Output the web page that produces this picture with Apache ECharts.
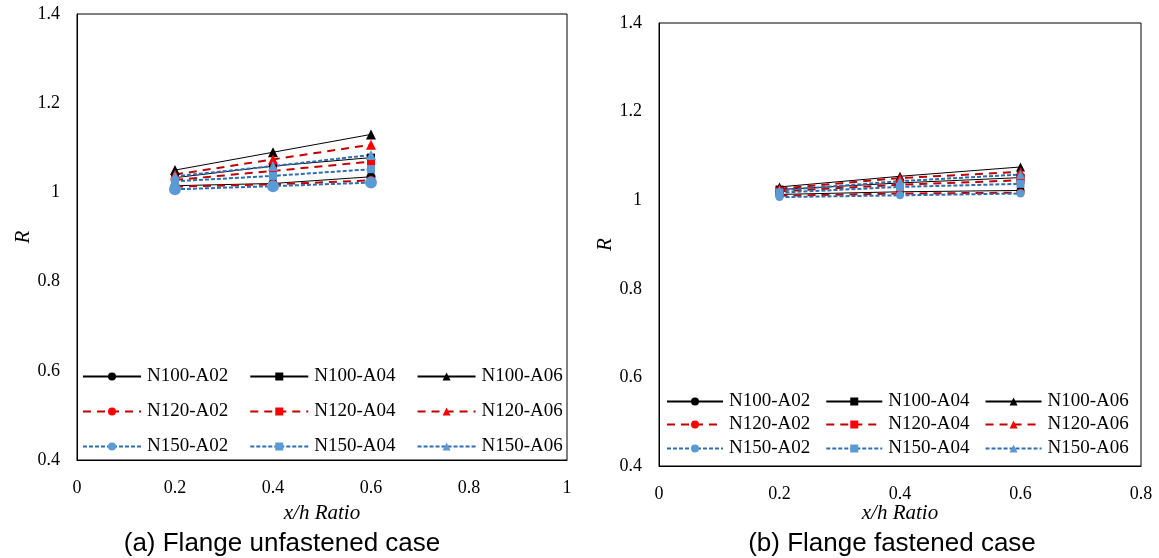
<!DOCTYPE html>
<html>
<head>
<meta charset="utf-8">
<script src="https://cdn.jsdelivr.net/npm/echarts@6/dist/echarts.min.js"></script>
<style>
  html, body { margin: 0; padding: 0; background: #fff; }
  #main { width: 1159px; height: 558px; }
</style>
</head>
<body>
<div id="main"></div>
<script>
// x/h ratio
var xVals = [0.2, 0.4, 0.6];
var groups = ['N100', 'N120', 'N150'];
var angles = ['A02', 'A04', 'A06'];

// (a) flange unfastened
var aN100A02 = [1.015, 1.020, 1.035];
var aN100A04 = [1.033, 1.059, 1.078];
var aN100A06 = [1.050, 1.090, 1.130];
var aN120A02 = [1.013, 1.018, 1.027];
var aN120A04 = [1.028, 1.048, 1.069];
var aN120A06 = [1.040, 1.074, 1.107];
var aN150A02 = [1.007, 1.014, 1.022];
var aN150A04 = [1.025, 1.037, 1.052];
var aN150A06 = [1.036, 1.059, 1.084];

// (b) flange fastened
var bN100A02 = [1.013, 1.019, 1.022];
var bN100A04 = [1.024, 1.039, 1.051];
var bN100A06 = [1.030, 1.054, 1.075];
var bN120A02 = [1.010, 1.015, 1.017];
var bN120A04 = [1.020, 1.035, 1.045];
var bN120A06 = [1.026, 1.050, 1.064];
var bN150A02 = [1.007, 1.011, 1.015];
var bN150A04 = [1.017, 1.030, 1.037];
var bN150A06 = [1.022, 1.043, 1.058];

var yTicks = [0.4, 0.6, 0.8, 1, 1.2, 1.4];

var dataA = {
  N100: [aN100A02, aN100A04, aN100A06],
  N120: [aN120A02, aN120A04, aN120A06],
  N150: [aN150A02, aN150A04, aN150A06]
};
var dataB = {
  N100: [bN100A02, bN100A04, bN100A06],
  N120: [bN120A02, bN120A04, bN120A06],
  N150: [bN150A02, bN150A04, bN150A06]
};

var serif = 'Liberation Serif';
var lineCol = { N100: '#000000', N120: '#C00000', N150: '#2E6DB0' };
var markCol = { N100: '#000000', N120: '#FF0000', N150: '#5B9BD5' };
var lineType = { N100: 'solid', N120: [8, 6], N150: [4, 2] };
var lineW = { N100: 1, N120: 2, N150: 2 };
var symbols = ['circle', 'rect', 'triangle'];

function makeSeries(data, idx, big) {
  var out = [];
  groups.forEach(function (g) {
    angles.forEach(function (a, k) {
      var size = k === 0 ? (g === 'N150' && big ? 12 : 9) : (k === 1 ? 8 : 10);
      if (!big) size = k === 0 ? 8 : (k === 1 ? 8 : 9);
      out.push({
        name: g + '-' + a,
        type: 'line',
        xAxisIndex: idx,
        yAxisIndex: idx,
        data: xVals.map(function (x, i) { return [x, data[g][k][i]]; }),
        symbol: symbols[k],
        symbolSize: size,
        lineStyle: { color: lineCol[g], width: lineW[g], type: lineType[g] },
        itemStyle: { color: markCol[g], borderWidth: 0 },
        emphasis: { disabled: true },
        animation: false
      });
    });
  });
  return out;
}

function rowLegend(row, left, top, w, gap) {
  return {
    data: angles.map(function (a) { return groups[row] + '-' + a; }),
    left: left, top: top, padding: 0,
    itemWidth: w, itemHeight: 10, itemGap: gap,
    textStyle: { fontFamily: serif, fontSize: 19, color: '#000', padding: [0, 0, 0, 1] },
    selectedMode: false
  };
}

var axisText = { fontFamily: serif, fontSize: 18, color: '#000' };
var nameText = { fontFamily: serif, fontSize: 21, fontStyle: 'italic', color: '#000' };

function xAxis(idx, max, gap) {
  return {
    type: 'value', gridIndex: idx, min: 0, max: max, interval: 0.2,
    axisLine: { show: true, lineStyle: { color: '#000' } },
    axisTick: { show: false }, splitLine: { show: false },
    axisLabel: Object.assign({ margin: 19 }, axisText),
    name: 'x/h Ratio', nameLocation: 'middle', nameGap: gap, nameTextStyle: nameText,
    nameMoveOverlap: false
  };
}
function yAxis(idx, gap) {
  return {
    type: 'value', gridIndex: idx, min: yTicks[0], max: yTicks[yTicks.length - 1], interval: 0.2,
    axisLine: { show: true, lineStyle: { color: '#000' } },
    axisTick: { show: false }, splitLine: { show: false },
    axisLabel: Object.assign({ margin: 17 }, axisText),
    name: 'R', nameLocation: 'middle', nameGap: gap, nameRotate: 90, nameTextStyle: nameText
  };
}

var chart = echarts.init(document.getElementById('main'));
var option = {
  backgroundColor: '#fff',
  animation: false,
  grid: [
    { left: 77, top: 14, width: 490, height: 446, show: true, borderColor: '#000', borderWidth: 1 },
    { left: 659, top: 23, width: 482, height: 443, show: true, borderColor: '#000', borderWidth: 1 }
  ],
  xAxis: [xAxis(0, 1, 43), xAxis(1, 0.8, 37)],
  yAxis: [yAxis(0, 36), yAxis(1, 39)],
  legend: [
    rowLegend(0, 82, 367, 58, 21), rowLegend(1, 82, 402, 58, 21), rowLegend(2, 82, 437, 58, 21),
    rowLegend(0, 666, 392, 56, 15), rowLegend(1, 666, 415, 56, 15), rowLegend(2, 666, 439, 56, 15)
  ],
  series: makeSeries(dataA, 0, true).concat(makeSeries(dataB, 1, false)),
  graphic: [
    { type: 'text', x: 282, y: 544, style: { text: '(a) Flange unfastened case', fontFamily: 'Liberation Sans', fontSize: 26, fill: '#000', align: 'center', verticalAlign: 'middle' } },
    { type: 'text', x: 892, y: 544, style: { text: '(b) Flange fastened case', fontFamily: 'Liberation Sans', fontSize: 26, fill: '#000', align: 'center', verticalAlign: 'middle' } }
  ]
};
chart.setOption(option);
</script>
</body>
</html>
